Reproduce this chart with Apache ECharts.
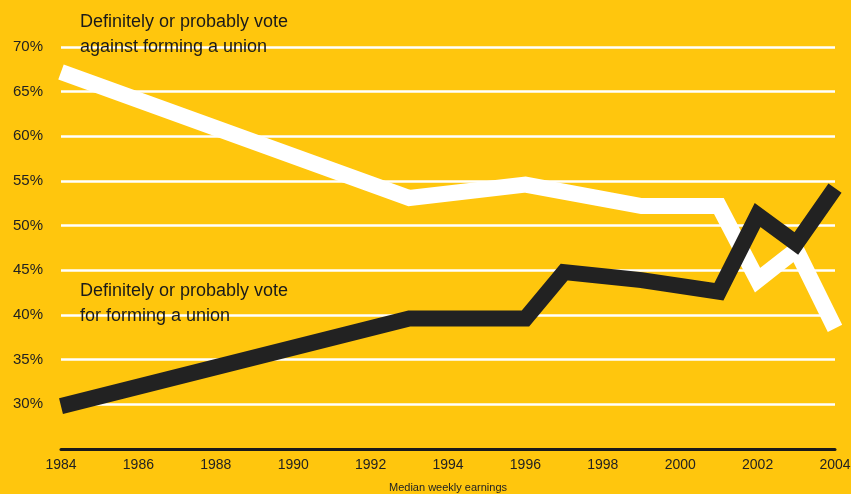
<!DOCTYPE html>
<html>
<head>
<meta charset="utf-8">
<script src="https://cdn.jsdelivr.net/npm/echarts@6/dist/echarts.min.js"></script>
<style>
  html, body { margin: 0; padding: 0; background: #FFC60D; overflow: hidden; }
  #chart { width: 851px; height: 494px; }
</style>
</head>
<body>
<div id="chart"></div>
<script>
// Share of workers who would vote against / for forming a union, by year
const againstYears = [1984, 1993, 1996, 1999, 2001, 2002, 2003, 2004];
const againstValues = [67.2, 53.1, 54.6, 52.2, 52.2, 43.9, 47.3, 38.5];

const forYears = [1984, 1993, 1996, 1997, 1999, 2001, 2002, 2003, 2004];
const forValues = [29.8, 39.6, 39.6, 44.8, 43.9, 42.6, 51.2, 48.0, 54.2];

const yTicks = [25, 30, 35, 40, 45, 50, 55, 60, 65, 70];
const xTitle = 'Median weekly earnings';
const againstLabel = 'Definitely or probably vote\nagainst forming a union';
const forLabel = 'Definitely or probably vote\nfor forming a union';

const pairs = (xs, ys) => xs.map((x, i) => [x, ys[i]]);

const font = '"Liberation Sans", Arial, Helvetica, sans-serif';
const chart = echarts.init(document.getElementById('chart'));

chart.setOption({
  backgroundColor: '#FFC60D',
  animation: false,
  grid: {
    left: 61, right: 16, top: 47, bottom: 45,
    containLabel: false,
    outerBoundsMode: 'none'
  },
  xAxis: {
    type: 'value',
    min: 1984,
    max: 2004,
    interval: 2,
    name: xTitle,
    nameLocation: 'middle',
    nameGap: 33,
    nameTextStyle: { fontFamily: font, fontSize: 11, color: '#222' },
    axisLine: { show: true, lineStyle: { color: '#1a1a1a', width: 3 } },
    axisTick: { show: false },
    splitLine: { show: false },
    axisLabel: {
      fontFamily: font, fontSize: 14, color: '#222', margin: 9,
      formatter: v => String(v)
    }
  },
  yAxis: {
    type: 'value',
    min: yTicks[0],
    max: yTicks[yTicks.length - 1],
    interval: 5,
    axisLine: { show: false },
    axisTick: { show: false },
    splitLine: { show: true, lineStyle: { color: '#ffffff', width: 2.5 } },
    axisLabel: {
      fontFamily: font, fontSize: 15, color: '#222', margin: 18,
      formatter: v => (v === yTicks[0] ? '' : v + '%')
    }
  },
  series: [
    {
      name: 'against',
      type: 'line',
      data: pairs(againstYears, againstValues),
      showSymbol: false,
      symbol: 'none',
      lineStyle: { color: '#ffffff', width: 16, cap: 'butt', join: 'miter' },
      z: 3
    },
    {
      name: 'for',
      type: 'line',
      data: pairs(forYears, forValues),
      showSymbol: false,
      symbol: 'none',
      lineStyle: { color: '#222222', width: 16, cap: 'butt', join: 'miter' },
      z: 4
    }
  ],
  graphic: [
    {
      type: 'text', left: 80, top: 10, z: 10,
      style: { text: againstLabel, font: '18px ' + font, fill: '#1a1a1a', lineHeight: 25 }
    },
    {
      type: 'text', left: 80, top: 279, z: 10,
      style: { text: forLabel, font: '18px ' + font, fill: '#1a1a1a', lineHeight: 25 }
    }
  ]
});
</script>
</body>
</html>
